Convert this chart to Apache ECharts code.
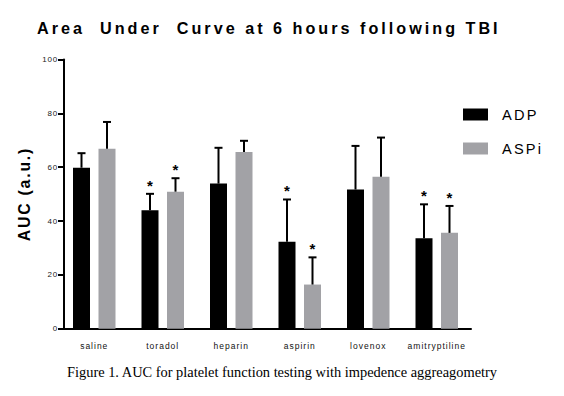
<!DOCTYPE html>
<html>
<head>
<meta charset="utf-8">
<script src="https://cdn.jsdelivr.net/npm/echarts@6/dist/echarts.min.js"></script>
<style>
  html, body { margin: 0; padding: 0; background: #fff; }
  #chart { width: 564px; height: 396px; }
  #chart text[style*=" 16.2px"] { letter-spacing: 3px; }
  #chart text[style*=" 15.8px"] { letter-spacing: 1.8px; }
  #chart text[style*=" 14.6px"] { letter-spacing: 2.2px; }
  #chart text[style*=" 8.5px"] { letter-spacing: 1px; }
  #chart text[style*=" 8px"] { letter-spacing: 0.8px; }
</style>
</head>
<body>
<div id="chart"></div>
<script>
const categories = ['saline', 'toradol', 'heparin', 'aspirin', 'lovenox', 'amitryptiline'];
const adpMean = [59.8, 44.0, 53.9, 32.3, 51.7, 33.6];
const adpSD   = [5.4, 6.1, 13.3, 15.7, 16.2, 12.6];
const adpSig  = [false, true, false, true, false, true];
const aspiMean = [66.8, 50.9, 65.6, 16.4, 56.4, 35.6];
const aspiSD   = [10.0, 5.0, 4.2, 10.1, 14.6, 10.0];
const aspiSig  = [false, true, false, true, false, true];
const yTicks = [0, 20, 40, 60, 80, 100];

const BAR_W = 17;
const COLORS = { ADP: '#000000', ASPi: '#a2a2a6' };

function errData(mean, sd, sig) {
  return mean.map((m, i) => [i, m + sd[i], m, sig[i] ? 1 : 0]);
}

function errRender(sign) {
  return function (params, api) {
    const idx = api.value(0);
    const top = api.coord([idx, api.value(1)]);
    const base = api.coord([idx, api.value(2)]);
    const x = top[0] + sign * BAR_W * 0.75;
    const children = [
      { type: 'line', shape: { x1: x, y1: base[1], x2: x, y2: top[1] },
        style: { stroke: '#000', lineWidth: 2 } },
      { type: 'line', shape: { x1: x - 4, y1: top[1], x2: x + 4, y2: top[1] },
        style: { stroke: '#000', lineWidth: 2 } }
    ];
    if (api.value(3) === 1) {
      children.push({ type: 'text', x: x, y: top[1] - 1,
        style: { text: '*', fontSize: 15, fontWeight: 'bold', fontFamily: 'Liberation Sans, Arial',
          fill: '#000', align: 'center', verticalAlign: 'bottom' } });
    }
    return { type: 'group', children: children };
  };
}

const chart = echarts.init(document.getElementById('chart'), null, { renderer: 'svg' });
chart.setOption({
  animation: false,
  backgroundColor: '#fff',
  title: [
    { text: 'Area  Under  Curve at 6 hours following TBI', left: 37, top: 20, padding: 0,
      textStyle: { fontSize: 16.2, fontWeight: 'bold', fontFamily: 'Liberation Sans, Arial', color: '#000' } },
    { text: 'Figure 1. AUC for platelet function testing with impedence aggreagometry', left: 67, top: 365, padding: 0,
      textStyle: { fontSize: 14.4, fontWeight: 'normal', fontFamily: 'Liberation Serif, Times New Roman', color: '#000' } }
  ],
  legend: {
    orient: 'vertical', left: 463, top: 107, padding: 0,
    itemWidth: 25, itemHeight: 12, itemGap: 19,
    icon: 'rect',
    data: ['ADP', 'ASPi'],
    textStyle: { fontSize: 14.6, fontFamily: 'Liberation Sans, Arial', color: '#000', padding: [0, 0, 0, 9] }
  },
  grid: { left: 60, width: 411, top: 59.5, bottom: 67.3, containLabel: false },
  xAxis: {
    type: 'category', data: categories, boundaryGap: true,
    axisLine: { lineStyle: { color: '#000', width: 2 } },
    axisTick: { alignWithLabel: true, length: 5, lineStyle: { color: '#000', width: 2 } },
    axisLabel: { fontSize: 8.5, fontFamily: 'Liberation Sans, Arial', color: '#111', margin: 13 }
  },
  yAxis: {
    type: 'value', min: 0, max: 100, interval: 20, offset: -4,
    name: 'AUC (a.u.)', nameLocation: 'middle', nameGap: 32,
    nameTextStyle: { fontSize: 15.8, fontWeight: 'bold', fontFamily: 'Liberation Sans, Arial', color: '#000' },
    axisLine: { show: true, lineStyle: { color: '#000', width: 2 } },
    axisTick: { show: true, length: 6, lineStyle: { color: '#000', width: 2 } },
    axisLabel: { fontSize: 8, fontFamily: 'Liberation Sans, Arial', color: '#222', margin: 6,
      formatter: v => yTicks.includes(v) ? String(v) : '' },
    splitLine: { show: false }
  },
  series: [
    { name: 'ADP', type: 'bar', data: adpMean, barWidth: BAR_W, barGap: '50%',
      itemStyle: { color: COLORS.ADP } },
    { name: 'ASPi', type: 'bar', data: aspiMean, barWidth: BAR_W, barGap: '50%',
      itemStyle: { color: COLORS.ASPi } },
    { name: 'ADP err', type: 'custom', data: errData(adpMean, adpSD, adpSig),
      encode: { x: 0, y: 1 }, renderItem: errRender(-1), z: 3 },
    { name: 'ASPi err', type: 'custom', data: errData(aspiMean, aspiSD, aspiSig),
      encode: { x: 0, y: 1 }, renderItem: errRender(1), z: 3 }
  ]
});
</script>
</body>
</html>
